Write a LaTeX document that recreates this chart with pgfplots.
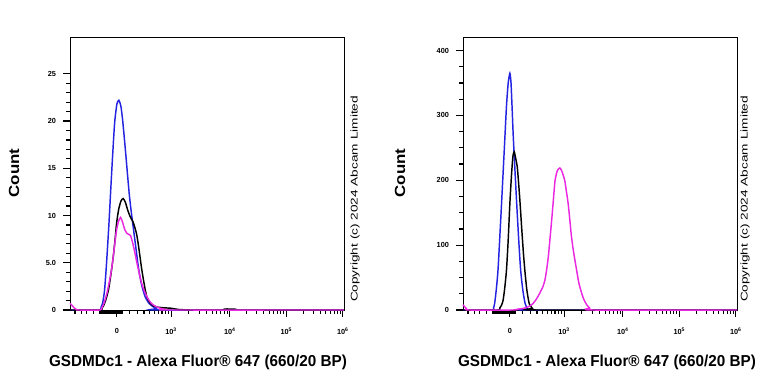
\documentclass[border=0pt]{standalone}
\usepackage{fontspec}
\setmainfont{Liberation Sans}
\usepackage{pgfplots}
\pgfplotsset{compat=1.18}
\definecolor{cblue}{RGB}{35,35,225}
\definecolor{cmag}{RGB}{235,40,225}
\pgfplotsset{
 flowaxis/.style={
  scale only axis, width=205.5pt, height=204.75pt,
  xmin=-0.83, xmax=4.02, ymin=0,
  axis line style={line width=0.7pt, black},
  tick align=outside,
  xtick pos=bottom, ytick pos=left,
  xtick={0,0.96,2,3,4},
  xticklabels={0,10\textsuperscript{3},10\textsuperscript{4},10\textsuperscript{5},10\textsuperscript{6}},
  minor xtick={-0.74,-0.62,-0.54,-0.42,0.22,0.36,0.48,0.58,0.66,0.74,0.80,0.86,0.91,1.273,1.456,1.586,1.687,1.769,1.839,1.899,1.952,2.301,2.477,2.602,2.699,2.778,2.845,2.903,2.954,3.301,3.477,3.602,3.699,3.778,3.845,3.903,3.954},
  extra x ticks={-0.31,-0.29,-0.27,-0.25,-0.23,-0.21,-0.19,-0.17,-0.15,-0.13,-0.11,-0.09,-0.07,-0.05,-0.03,-0.01,0.01,0.03,0.05,0.07,0.09},
  extra x tick labels={},
  extra x tick style={major tick length=3pt, every tick/.style={black, line width=1pt}},
  major tick length=5pt, minor tick length=3pt,
  every tick/.style={black, line width=0.9pt},
  every minor tick/.style={black, line width=0.9pt},
  tick label style={font=\fontsize{5.5}{6.5}\selectfont\bfseries},
  xticklabel style={yshift=-5pt},
  yticklabel style={xshift=-2pt},
  clip=false,
  every axis plot/.append style={line width=1.1pt, smooth, tension=0.4},
 }
}
\begin{document}
\begin{tikzpicture}
\useasboundingbox (0,0) rectangle (576pt,288pt);
% ---------- left panel ----------
\begin{axis}[flowaxis, at={(52.5pt,55.5pt)}, anchor=south west,
  ymax=28.9, ytick={0,5,10,15,20,25}, yticklabels={0,5.0,10,15,20,25}, minor y tick num=4]
\addplot[cblue] coordinates {(-0.83,0)(-0.32,0)(-0.28,0.3)(-0.25,0.8)(-0.22,2.0)(-0.195,3.9)(-0.17,6.2)(-0.14,9.2)(-0.11,12.6)(-0.076,16.3)(-0.04,19.8)(0,21.8)(0.035,22.2)(0.07,21.6)(0.10,20.2)(0.13,18.3)(0.16,16.3)(0.19,14.2)(0.22,12.2)(0.25,10.6)(0.28,9.2)(0.31,7.8)(0.34,6.4)(0.37,5.0)(0.40,3.8)(0.44,2.6)(0.50,1.4)(0.57,0.7)(0.64,0.35)(0.70,0.12)(0.76,0)(4.02,0)};
\addplot[black] coordinates {(-0.83,0)(-0.30,0)(-0.27,0.15)(-0.24,0.4)(-0.20,1.0)(-0.15,2.1)(-0.11,3.6)(-0.065,5.6)(-0.03,7.6)(-0.005,9.2)(0.03,10.6)(0.07,11.5)(0.11,11.8)(0.15,11.4)(0.19,10.6)(0.22,10.1)(0.25,9.7)(0.28,9.4)(0.31,8.9)(0.35,8.0)(0.38,6.9)(0.41,5.6)(0.44,4.3)(0.47,3.2)(0.50,2.2)(0.53,1.4)(0.58,0.8)(0.64,0.45)(0.72,0.3)(0.85,0.22)(0.94,0.2)(1.02,0.12)(1.10,0.05)(1.20,0.02)(1.30,0)(1.85,0)(1.90,0.1)(2.00,0.1)(2.05,0)(4.02,0)};
\addplot[cmag] coordinates {(-0.83,0.7)(-0.79,0.45)(-0.75,0.2)(-0.71,0.03)(-0.68,0)(-0.30,0)(-0.27,0.2)(-0.24,0.55)(-0.21,1.06)(-0.175,1.8)(-0.14,2.8)(-0.10,4.1)(-0.065,5.6)(-0.035,7.1)(-0.005,8.5)(0.03,9.4)(0.065,9.8)(0.10,9.3)(0.14,8.5)(0.18,8.1)(0.21,8.0)(0.24,7.9)(0.28,7.1)(0.32,6.0)(0.365,4.7)(0.41,3.5)(0.45,2.6)(0.50,1.8)(0.55,1.2)(0.61,0.7)(0.68,0.4)(0.76,0.2)(0.85,0.06)(0.92,0)(4.02,0)};
\end{axis}
% ---------- right panel ----------
\begin{axis}[flowaxis, at={(347.25pt,55.5pt)}, anchor=south west,
  ymax=421, ytick={0,100,200,300,400}, yticklabels={0,100,200,300,400}, minor y tick num=3]
\addplot[cblue] coordinates {(-0.83,0)(-0.32,0)(-0.29,3)(-0.27,10)(-0.24,32)(-0.21,62)(-0.18,110)(-0.147,165)(-0.118,215)(-0.088,267)(-0.06,315)(-0.03,350)(0,365)(0.02,350)(0.04,310)(0.06,267)(0.09,215)(0.12,165)(0.155,110)(0.19,62)(0.23,30)(0.27,10)(0.31,2)(0.35,0)(4.02,0)};
\addplot[black] coordinates {(-0.83,0)(-0.22,0)(-0.18,3)(-0.15,7)(-0.12,15)(-0.09,35)(-0.06,62)(-0.03,108)(0,165)(0.03,210)(0.055,238)(0.077,244)(0.10,235)(0.13,221)(0.155,195)(0.18,165)(0.21,125)(0.24,87)(0.27,56)(0.30,31)(0.33,15)(0.35,8)(0.40,2.5)(0.47,0)(4.02,0)};
\addplot[cmag] coordinates {(-0.83,8)(-0.80,5)(-0.77,2)(-0.73,0)(0.06,0)(0.12,1)(0.18,1.8)(0.24,2.5)(0.30,4)(0.36,6.5)(0.41,10)(0.47,17)(0.53,26)(0.58,35)(0.62,46)(0.65,62)(0.68,82)(0.71,110)(0.74,139)(0.77,170)(0.80,200)(0.84,215)(0.885,219)(0.92,214)(0.97,200)(1.00,183)(1.03,165)(1.06,140)(1.09,113)(1.13,88)(1.18,62)(1.22,42)(1.27,26)(1.31,16)(1.36,8)(1.41,3)(1.47,0)(4.02,0)};
\end{axis}
% ---------- texts ----------
\node[rotate=90] at (10.5pt,158.25pt) {\scalebox{1.15}[1]{\fontsize{11}{12}\selectfont\bfseries Count}};
\node[rotate=90] at (300pt,158.25pt) {\scalebox{1.15}[1]{\fontsize{11}{12}\selectfont\bfseries Count}};
\node[rotate=90] at (266.25pt,138.75pt) {\scalebox{1.4}[1]{\fontsize{7.3}{9}\selectfont Copyright (c) 2024 Abcam Limited}};
\node[rotate=90] at (558.75pt,138.75pt) {\scalebox{1.4}[1]{\fontsize{7.3}{9}\selectfont Copyright (c) 2024 Abcam Limited}};
\node at (148.5pt,16.5pt) {\scalebox{1.04}[1.08]{\fontsize{11}{12}\selectfont\bfseries GSDMDc1 - Alexa Fluor® 647 (660/20 BP)}};
\node at (455.25pt,16.5pt) {\scalebox{1.04}[1.08]{\fontsize{11}{12}\selectfont\bfseries GSDMDc1 - Alexa Fluor® 647 (660/20 BP)}};
\end{tikzpicture}
\end{document}
